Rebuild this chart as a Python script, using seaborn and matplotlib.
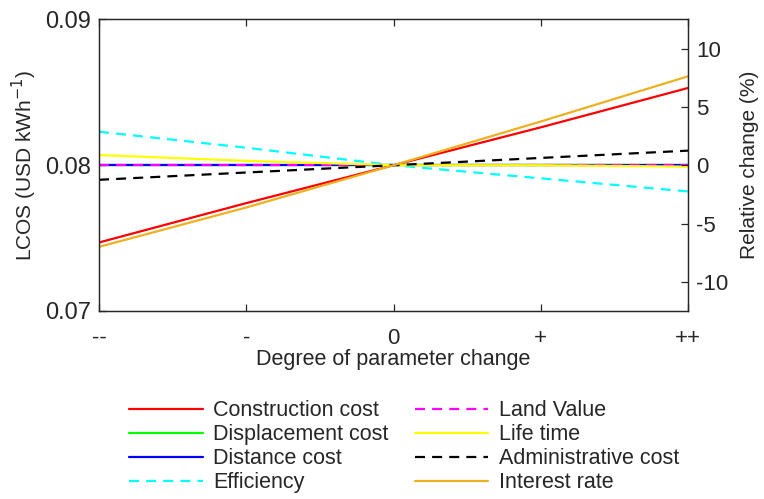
import matplotlib
matplotlib.use("Agg")
import matplotlib.pyplot as plt
import seaborn as sns
import pandas as pd

# Degree of parameter change (--, -, 0, +, ++)
steps = [-2, -1, 0, 1, 2]
step_labels = ["--", "-", "0", "+", "++"]

# LCOS (USD/kWh) for each parameter at each step
construction_cost = [0.0747, 0.0774, 0.0800, 0.0826, 0.0853]
displacement_cost = [0.0800, 0.0800, 0.0800, 0.0800, 0.0800]
distance_cost = [0.0800, 0.0800, 0.0800, 0.0800, 0.0800]
efficiency = [0.0823, 0.0812, 0.0800, 0.0791, 0.0782]
land_value = [0.0800, 0.0800, 0.0800, 0.0800, 0.0800]
life_time = [0.0807, 0.0803, 0.0800, 0.0800, 0.0799]
administrative_cost = [0.0790, 0.0795, 0.0800, 0.0805, 0.0810]
interest_rate = [0.0744, 0.0771, 0.0800, 0.0830, 0.0861]

base_lcos = 0.08

series = [
    ("Construction cost", construction_cost, "#ff0000", "-"),
    ("Displacement cost", displacement_cost, "#00ff00", "-"),
    ("Distance cost", distance_cost, "#0000ff", "-"),
    ("Efficiency", efficiency, "#00ffff", "--"),
    ("Land Value", land_value, "#ff00ff", "--"),
    ("Life time", life_time, "#ffff00", "-"),
    ("Administrative cost", administrative_cost, "#000000", "--"),
    ("Interest rate", interest_rate, "#edb120", "-"),
]

sns.set_style("white")
plt.rcParams["font.family"] = ["Liberation Sans", "DejaVu Sans"]
plt.rcParams["axes.unicode_minus"] = False

fig = plt.figure(figsize=(7.64, 4.99), dpi=100)
ax = fig.add_axes([0.1296, 0.3768, 0.771, 0.5842])

for name, vals, color, ls in series:
    df = pd.DataFrame({"step": steps, "lcos": vals})
    sns.lineplot(data=df, x="step", y="lcos", ax=ax, color=color,
                 linewidth=1.6, label=name)
    line = ax.get_lines()[-1]
    if ls == "--":
        line.set_dashes((4.5, 3.2))

ax.set_xlim(-2, 2)
ax.set_ylim(0.07, 0.09)
ax.set_xticks(steps)
ax.set_xticklabels(step_labels)
ax.set_yticks([0.07, 0.08, 0.09])
ax.set_yticklabels(["0.07", "0.08", "0.09"])
ax.tick_params(axis="x", direction="in", bottom=True, top=True, labelsize=16,
               length=5, width=0.9, pad=12, color="#262626")
ax.tick_params(axis="y", direction="in", left=True, labelsize=17, length=5,
               width=0.9, pad=6, color="#262626")
ax.set_xlabel("Degree of parameter change", fontsize=15.5, labelpad=0)
ax.set_ylabel("LCOS (USD kWh$^{-1}$)", fontsize=15, labelpad=4)
for sp in ax.spines.values():
    sp.set_color("#262626")
    sp.set_linewidth(0.9)

# Secondary axis: relative change against the base LCOS
ax2 = ax.twinx()
lo, hi = ax.get_ylim()
ax2.set_ylim((lo - base_lcos) / base_lcos * 100, (hi - base_lcos) / base_lcos * 100)
ax2.set_yticks([-10, -5, 0, 5, 10])
ax2.tick_params(axis="y", direction="in", right=True, labelsize=16, length=5,
                width=0.9, pad=6, color="#262626")
ax2.set_ylabel("Relative change (%)", fontsize=15, labelpad=8)
for sp in ax2.spines.values():
    sp.set_color("#262626")
    sp.set_linewidth(0.9)

handles, labels = ax.get_legend_handles_labels()
ax.get_legend().remove()
fig.legend(handles, labels,
           loc="upper center", bbox_to_anchor=(0.529, 0.228), ncol=2,
           frameon=False, fontsize=15.5, handlelength=3.4, handletextpad=0.5,
           columnspacing=1.2, labelspacing=0.14, borderpad=0.2)

fig.savefig("out.png", dpi=100)
